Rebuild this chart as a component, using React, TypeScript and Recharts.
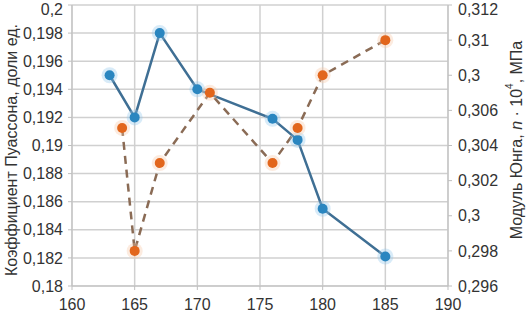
import { LineChart, Line, XAxis, YAxis, CartesianGrid, Label } from "recharts";

const poissonX = [163, 165, 167, 170, 176, 178, 180, 185];
const poissonY = [0.195, 0.192, 0.198, 0.194, 0.1919, 0.1904, 0.1855, 0.1821];

const youngX = [164, 165, 167, 171, 176, 178, 180, 185];
const youngY = [0.305, 0.298, 0.303, 0.307, 0.303, 0.305, 0.308, 0.31];

const xTicks = [160, 165, 170, 175, 180, 185, 190];
const leftTicks = [0.18, 0.182, 0.184, 0.186, 0.188, 0.19, 0.192, 0.194, 0.196, 0.198, 0.2];
const rightTicks = [0.296, 0.298, 0.3, 0.302, 0.304, 0.306, 0.308, 0.31, 0.312];
const rightTickLabels = ["0,296", "0,298", "0,3", "0,302", "0,304", "0,306", "0,3", "0,31", "0,312"];

const poissonData = poissonX.map((x, i) => ({ x, poisson: poissonY[i] }));
const youngData = youngX.map((x, i) => ({ x, young: youngY[i] }));

const FONT = "'Liberation Sans', Arial, sans-serif";
const TEXT = "#333333";
const GRID = "#d0d0d0";

const comma = (v: number) => String(v).replace(".", ",");

function GlowDot(color: string, glow: string) {
  return (props: any) => {
    const { cx, cy, index } = props;
    if (cx == null || cy == null) return null;
    return (
      <g key={`d-${color}-${index}`}>
        <circle cx={cx} cy={cy} r={8} fill={glow} opacity={0.35} />
        <circle cx={cx} cy={cy} r={5} fill={color} />
      </g>
    );
  };
}

export default function App() {
  return (
    <div style={{ position: "absolute", left: 0, top: 0, background: "#fff" }}>
      <LineChart
        width={526}
        height={313}
        margin={{ top: 5, right: 0, bottom: 0, left: 0 }}
        style={{ fontFamily: FONT }}
      >
        <CartesianGrid stroke={GRID} strokeWidth={1.5} yAxisId="left" />
        <XAxis
          type="number"
          dataKey="x"
          domain={[160, 190]}
          ticks={xTicks}
          allowDataOverflow
          height={27}
          stroke="#bfbfbf"
          tickSize={4}
          tickMargin={9}
          tick={{ fill: TEXT, fontSize: 16 }}
        />
        <YAxis
          yAxisId="left"
          domain={[0.18, 0.2]}
          ticks={leftTicks}
          width={72}
          stroke="#bfbfbf"
          tickSize={4}
          tickMargin={5}
          tick={{ fill: TEXT, fontSize: 16 }}
          tickFormatter={comma}
        >
          <Label
            content={() => (
              <text
                x={11}
                y={150}
                transform="rotate(-90 11 150)"
                textAnchor="middle"
                dominantBaseline="central"
                fill={TEXT}
                fontSize={16}
                fontFamily={FONT}
              >
                Коэффициент Пуассона, доли ед.
              </text>
            )}
          />
        </YAxis>
        <YAxis
          yAxisId="right"
          orientation="right"
          domain={[0.296, 0.312]}
          ticks={rightTicks}
          width={78}
          stroke="#bfbfbf"
          tickSize={4}
          tickMargin={6}
          tick={{ fill: TEXT, fontSize: 16 }}
          tickFormatter={(v: number) => rightTickLabels[rightTicks.indexOf(v)] ?? comma(v)}
        >
          <Label
            content={() => (
              <text
                x={516}
                y={140}
                transform="rotate(-90 516 140)"
                textAnchor="middle"
                dominantBaseline="central"
                fill={TEXT}
                fontSize={16}
                fontFamily={FONT}
              >
                Модуль Юнга, <tspan fontStyle="italic">n</tspan> · 10
                <tspan fontSize={10} dy={-7}>4</tspan>
                <tspan dy={7}>, МПа</tspan>
              </text>
            )}
          />
        </YAxis>
        <Line
          yAxisId="left"
          data={poissonData}
          dataKey="poisson"
          stroke="#3f6f94"
          strokeWidth={2.5}
          dot={GlowDot("#2a86c0", "#8fc6ea")}
          isAnimationActive={false}
        />
        <Line
          yAxisId="right"
          data={youngData}
          dataKey="young"
          stroke="#8a6b55"
          strokeWidth={2.5}
          strokeDasharray="8 6"
          dot={GlowDot("#e2661c", "#f6c7a3")}
          isAnimationActive={false}
        />
      </LineChart>
    </div>
  );
}
